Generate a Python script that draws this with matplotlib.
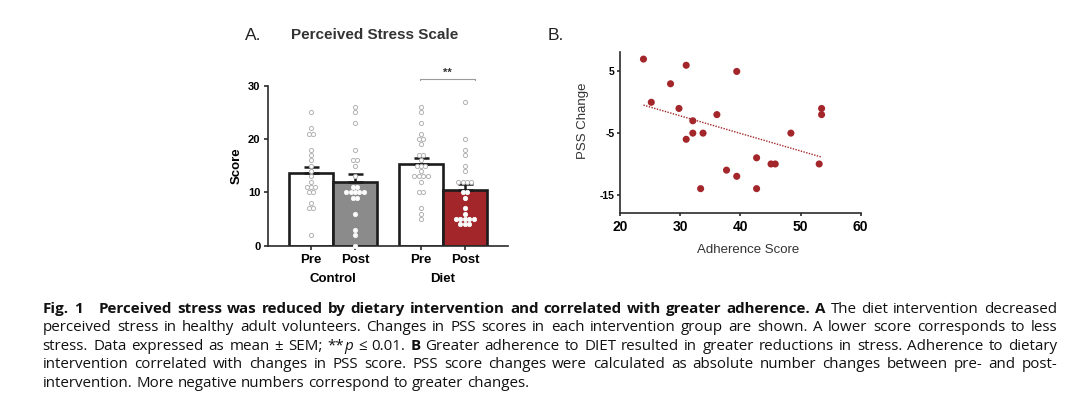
import re
import numpy as np
import matplotlib
matplotlib.use('Agg')
import matplotlib.pyplot as plt
from matplotlib.transforms import blended_transform_factory

plt.rcParams['font.family'] = ['Liberation Sans', 'DejaVu Sans']
plt.rcParams['axes.unicode_minus'] = False

# === Datos panel A: puntuaciones individuales (PSS) ===
conditions = ['Pre', 'Post', 'Pre', 'Post']
groups = ['Control', 'Diet']
ctrl_pre = [25, 22, 21, 21, 18, 17, 16, 15, 14, 13, 12, 11, 11, 11, 10, 10, 8, 7, 7, 2]
ctrl_post = [26, 25, 23, 18, 16, 16, 15, 13, 11, 11, 10, 10, 10, 10, 10, 9, 9, 6, 3, 2, 0]
diet_pre = [26, 25, 23, 21, 20, 20, 19, 17, 17, 16, 15, 15, 15, 14, 13, 13, 13, 13, 12,
            10, 10, 7, 6, 5]
diet_post = [27, 20, 18, 17, 15, 14, 12, 12, 12, 12, 10, 10, 9, 7, 6, 5, 5, 5, 5, 5, 4, 4, 4]
bar_means = [13.7, 12.0, 15.3, 10.4]
bar_sem = [1.15, 1.45, 1.1, 1.15]
bar_colors = ['white', '#8b8b8b', 'white', '#a3262a']
y_ticks_a = [0, 10, 20, 30]

# === Datos panel B: adherencia vs cambio PSS ===
adherence = [23.9, 31.0, 39.4, 28.4, 25.2, 29.8, 36.1, 32.1, 32.1, 33.8, 31.0,
             48.4, 53.5, 53.5, 42.7, 45.1, 45.8, 53.1, 37.7, 39.4, 33.4, 42.7]
pss_change = [7, 6, 5, 3, 0, -1, -2, -3, -5, -5, -6,
              -5, -1, -2, -9, -10, -10, -10, -11, -12, -14, -14]
x_ticks_b = [20, 30, 40, 50, 60]
y_ticks_b = [5, -5, -15]

# === Texto del pie de figura ===
caption_lines = [
    [("Fig. 1", 'bold', 'normal'), ("    ", 'normal', 'normal'),
     ("Perceived stress was reduced by dietary intervention and correlated with greater adherence. A",
      'bold', 'normal'),
     (" The diet intervention decreased", 'normal', 'normal')],
    [("perceived stress in healthy adult volunteers. Changes in PSS scores in each intervention "
      "group are shown. A lower score corresponds to less", 'normal', 'normal')],
    [("stress. Data expressed as mean ± SEM; **", 'normal', 'normal'), ("p", 'normal', 'italic'),
     (" ≤ 0.01. ", 'normal', 'normal'), ("B", 'bold', 'normal'),
     (" Greater adherence to DIET resulted in greater reductions in stress. Adherence to dietary",
      'normal', 'normal')],
    [("intervention correlated with changes in PSS score. PSS score changes were calculated as "
      "absolute number changes between pre- and post-", 'normal', 'normal')],
    [("intervention. More negative numbers correspond to greater changes.", 'normal', 'normal')],
]

W, H = 1080, 394
fig = plt.figure(figsize=(W / 100, H / 100), dpi=100)


def fx(px):
    return px / W


def fy(py):
    return 1 - py / H


dark = '#2b2b2b'

# === Panel A ===
axA = fig.add_axes([fx(268.3), fy(245.7), (508 - 268.3) / W, 160 / H])
positions = [0, 1, 2.5, 3.5]
axA.bar(positions, bar_means, width=1.0, color=bar_colors, edgecolor='#1c1c1c',
        linewidth=1.9, zorder=2)
axA.errorbar(positions, bar_means, yerr=[np.zeros(4), bar_sem], fmt='none',
             ecolor='#1c1c1c', elinewidth=1.8, capsize=5.4, capthick=1.8, zorder=3)

for pos, vals, col, mean in zip(positions, [ctrl_pre, ctrl_post, diet_pre, diet_post],
                                bar_colors, bar_means):
    vals = np.array(vals)
    uniq, counts = np.unique(vals, return_counts=True)
    for v, n in zip(uniq, counts):
        offs = (np.arange(n) - (n - 1) / 2) * 0.1
        inside = col != 'white' and v < mean
        axA.scatter(pos + offs, np.full(n, v), s=9, facecolor='white',
                    edgecolor='#f2f2f2' if inside else '#b3b3b3',
                    linewidths=0.7, zorder=4, clip_on=False)

axA.set_xlim(-0.97, 4.48)
axA.set_ylim(0, 30)
axA.set_yticks(y_ticks_a)
axA.set_yticklabels([str(t) for t in y_ticks_a], fontweight='bold', fontsize=8)
axA.set_xticks(positions)
axA.set_xticklabels(conditions, fontweight='bold', fontsize=9.5)
axA.tick_params(axis='y', length=3, width=1.2, pad=2.6, color=dark)
axA.tick_params(axis='x', length=3, width=1.2, pad=3, color=dark)
for s in ['top', 'right']:
    axA.spines[s].set_visible(False)
for s in ['left', 'bottom']:
    axA.spines[s].set_linewidth(1.2)
    axA.spines[s].set_color(dark)

trans = blended_transform_factory(axA.transData, axA.transAxes)
axA.text(0.5, -0.21, groups[0], transform=trans, ha='center', va='center',
         fontweight='bold', fontsize=9.5)
axA.text(3.0, -0.21, groups[1], transform=trans, ha='center', va='center',
         fontweight='bold', fontsize=9.5)

# corchete de significancia
axA.plot([2.48, 2.48, 3.73, 3.73], [31.0, 31.3, 31.3, 31.0], color='#9a9a9a', lw=0.8,
         clip_on=False)
axA.text(3.1, 32.4, '**', ha='center', va='center', fontsize=8, fontweight='bold',
         color='#333333')

fig.text(fx(236.7), fy(165.7), 'Score', rotation=90, ha='center', va='center',
         fontweight='bold', fontsize=9.5)
fig.text(fx(245), fy(35), 'A.', ha='left', va='center', fontsize=12.5, color='#222222')
fig.text(fx(290.7), fy(35), 'Perceived Stress Scale', ha='left', va='center',
         fontsize=11, fontweight='bold', color='#333333')

# === Panel B ===
axB = fig.add_axes([fx(620), fy(212.7), (860.7 - 620) / W, (212.7 - 51.7) / H])
red = '#a3262a'
axB.scatter(adherence, pss_change, s=26, color=red, edgecolors='none', zorder=3)
slope, intercept = np.polyfit(adherence, pss_change, 1)
xx = np.array([min(adherence), max(adherence)])
axB.plot(xx, slope * xx + intercept, color=red, lw=1.0, ls=(0, (1, 1)), zorder=2)

axB.set_xlim(20, 60)
axB.set_ylim(-17.9, 8.2)
axB.set_xticks(x_ticks_b)
axB.set_xticklabels([str(t) for t in x_ticks_b], fontweight='bold', fontsize=10)
axB.set_yticks(y_ticks_b)
axB.set_yticklabels([str(t) for t in y_ticks_b], fontweight='bold', fontsize=7.5)
axB.tick_params(axis='both', length=2.5, width=1.2, color=dark)
axB.tick_params(axis='y', pad=1.5)
axB.tick_params(axis='x', pad=2.4)
for s in ['top', 'right']:
    axB.spines[s].set_visible(False)
for s in ['left', 'bottom']:
    axB.spines[s].set_linewidth(1.2)
    axB.spines[s].set_color(dark)

fig.text(fx(583.3), fy(120.8), 'PSS Change', rotation=90, ha='center', va='center',
         fontsize=9.5, color='#333333')
fig.text(fx(748.3), fy(250), 'Adherence Score', ha='center', va='center',
         fontsize=9.5, color='#333333')
fig.text(fx(548), fy(35), 'B.', ha='left', va='center', fontsize=12.5, color='#222222')

# === Pie de figura justificado ===
cap_font = ['Open Sans', 'DejaVu Sans']
cap_size = 10.9
renderer = fig.canvas.get_renderer()


def measure(s, weight='normal', style='normal'):
    t = fig.text(0, 0, s, fontsize=cap_size, fontweight=weight, fontstyle=style,
                 family=cap_font)
    w = t.get_window_extent(renderer=renderer).width
    t.remove()
    return w


space_w = measure('a a') - measure('aa')
x0, x1 = 42.7, 1057.0
baselines = [312.7, 331.2, 349.7, 368.2, 386.7]

for li, (segments, base) in enumerate(zip(caption_lines, baselines)):
    words = []
    pending = 0
    for text, weight, style in segments:
        for tok in re.split(r'( +)', text):
            if tok == '':
                continue
            if tok.startswith(' '):
                pending += len(tok)
            else:
                if pending or not words:
                    words.append([pending, [(tok, weight, style)]])
                else:
                    words[-1][1].append((tok, weight, style))
                pending = 0
    widths = [sum(measure(*p) for p in w[1]) for w in words]
    gaps = [w[0] * space_w for w in words[1:]]
    add = 0
    if li < len(caption_lines) - 1:
        add = ((x1 - x0) - sum(widths) - sum(gaps)) / len(gaps)
    x = x0
    for i, (units, pieces) in enumerate(words):
        if i > 0:
            x += gaps[i - 1] + add
        for text, weight, style in pieces:
            fig.text(fx(x), fy(base), text, ha='left', va='baseline', fontsize=cap_size,
                     fontweight=weight, fontstyle=style, family=cap_font, color='#111111')
            x += measure(text, weight, style)

fig.savefig('out.png', dpi=100)
